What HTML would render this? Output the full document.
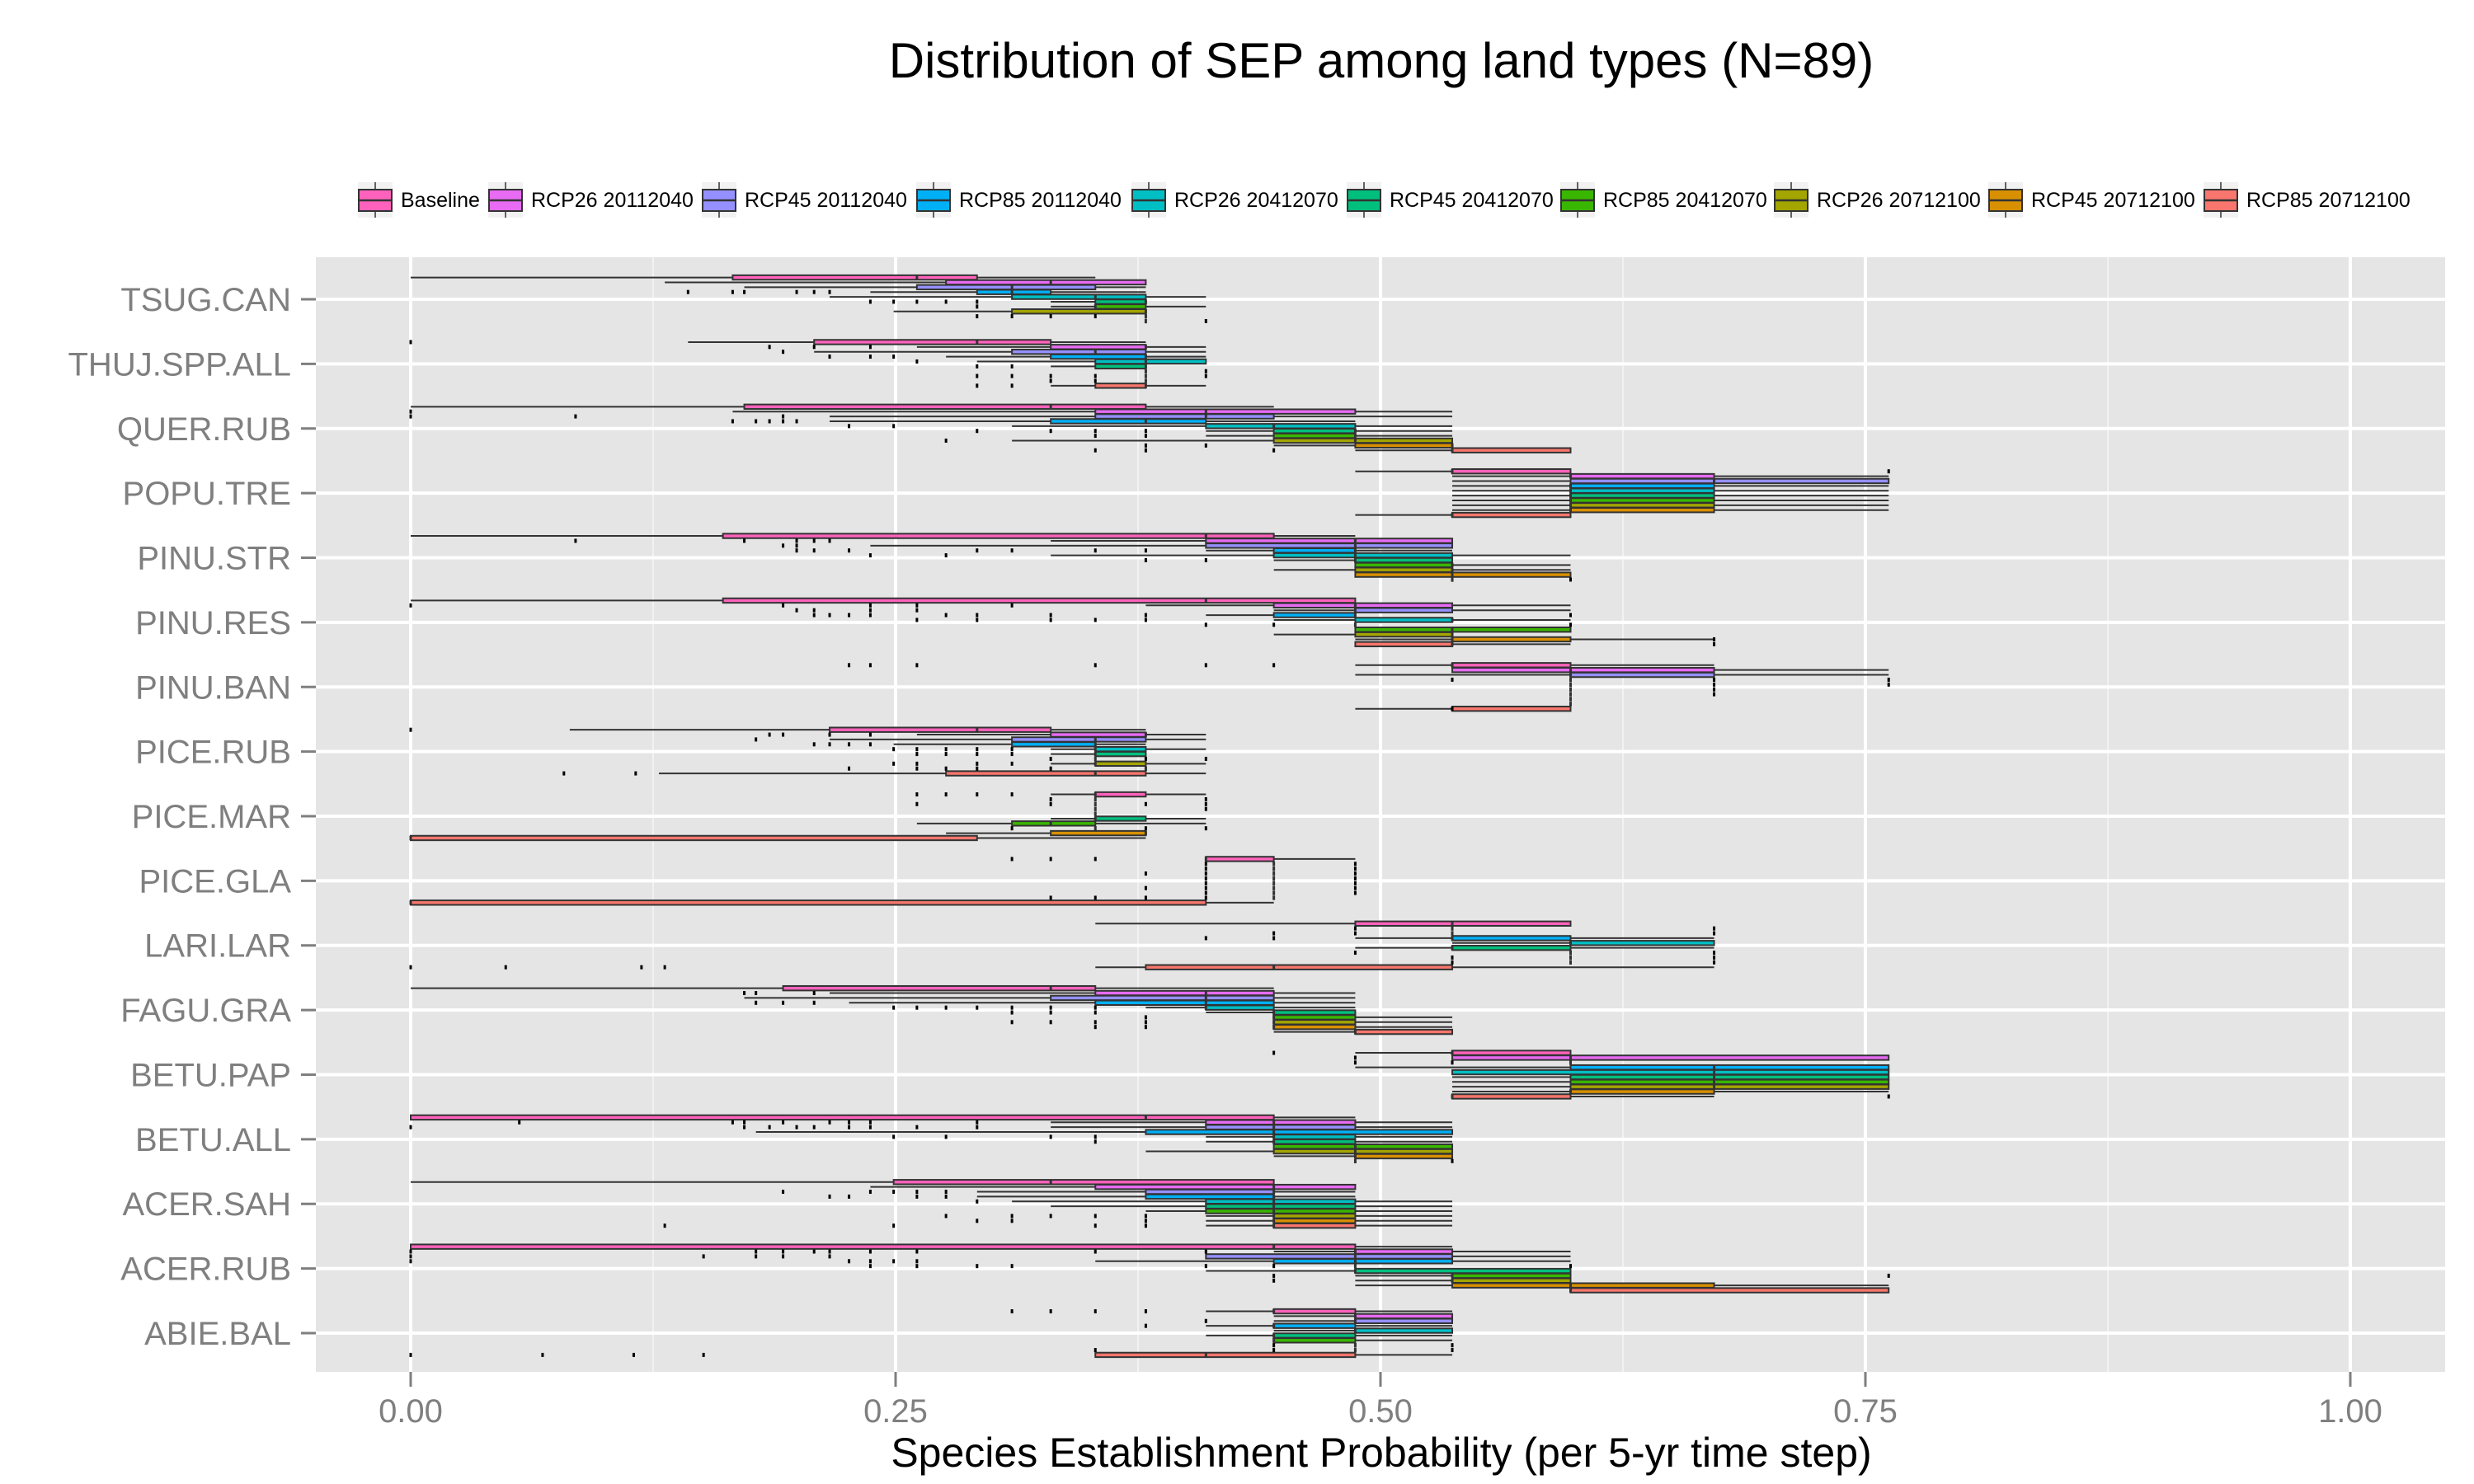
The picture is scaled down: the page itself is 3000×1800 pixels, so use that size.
<!DOCTYPE html>
<html><head><meta charset="utf-8"><style>
html,body{margin:0;padding:0;background:#fff;}
svg{display:block;font-family:"Liberation Sans",sans-serif;}
</style></head><body>
<svg id="chart" width="3000" height="1800" viewBox="0 0 3000 1800" xmlns="http://www.w3.org/2000/svg">
<rect x="0" y="0" width="3000" height="1800" fill="#fff"/>
<text x="1675" y="94" font-size="60" text-anchor="middle" fill="#000">Distribution of SEP among land types (N=89)</text>
<g id="legend"></g>
<rect x="383" y="312" width="2582" height="1352" fill="#E5E5E5"/>
<g id="grid"></g>
<g id="marks"></g>
<g id="axes"></g>
<text x="1675" y="1779" font-size="50" text-anchor="middle" fill="#000">Species Establishment Probability (per 5-yr time step)</text>
</svg>
<script>
const categories = ["TSUG.CAN","THUJ.SPP.ALL","QUER.RUB","POPU.TRE","PINU.STR","PINU.RES","PINU.BAN","PICE.RUB","PICE.MAR","PICE.GLA","LARI.LAR","FAGU.GRA","BETU.PAP","BETU.ALL","ACER.SAH","ACER.RUB","ABIE.BAL"];
const groups = ["Baseline","RCP26 20112040","RCP45 20112040","RCP85 20112040","RCP26 20412070","RCP45 20412070","RCP85 20412070","RCP26 20712100","RCP45 20712100","RCP85 20712100"];
const groupColors = ["#FF62BC","#E76BF3","#9590FF","#00B0F6","#00BFC4","#00BF7D","#39B600","#A3A500","#D89000","#F8766D"];
const xTicks = [0,0.25,0.5,0.75,1];
const xTickLabels = ["0.00","0.25","0.50","0.75","1.00"];
const xMinor = [0.125,0.375,0.625,0.875];
// per-category box stats [low whisker, q1, median, q3, high whisker], one row per group
const statsTSUG = [[0,.166,.261,.292,.353],[.131,.276,.33,.379,.379],[.172,.261,.31,.353,.379],[.237,.292,.31,.33,.379],[.216,.31,.353,.379,.41],[.33,.353,.379,.379,.379],[.33,.353,.353,.379,.41],[.249,.31,.379,.379,.379],[.379,.379,.379,.379,.379],[.379,.379,.379,.379,.379]];
const statsTHUJ = [[.143,.208,.292,.33,.379],[.261,.33,.379,.379,.41],[.208,.31,.353,.379,.41],[.276,.33,.379,.379,.41],[.292,.353,.379,.41,.41],[.33,.353,.379,.379,.379],[.379,.379,.379,.379,.379],[.379,.379,.379,.379,.379],[.379,.379,.379,.379,.379],[.33,.353,.379,.379,.41]];
const statsQUER = [[0,.172,.33,.379,.445],[.166,.353,.41,.487,.537],[.216,.353,.41,.445,.537],[.216,.33,.379,.41,.487],[.31,.41,.445,.487,.537],[.41,.445,.487,.487,.537],[.41,.445,.487,.487,.537],[.31,.445,.487,.537,.537],[.445,.487,.537,.537,.537],[.487,.537,.537,.598,.598]];
const statsPOPU = [[.487,.537,.537,.598,.598],[.537,.598,.598,.672,.762],[.537,.598,.672,.762,.762],[.537,.598,.598,.672,.762],[.537,.598,.598,.672,.762],[.537,.598,.598,.672,.762],[.537,.598,.598,.672,.762],[.537,.598,.598,.672,.762],[.537,.598,.598,.672,.762],[.487,.537,.537,.598,.598]];
const statsPSTR = [[0,.161,.41,.445,.487],[.33,.41,.487,.537,.537],[.237,.41,.487,.537,.537],[.41,.445,.487,.487,.537],[.33,.445,.487,.537,.598],[.445,.487,.487,.537,.537],[.487,.487,.537,.537,.598],[.445,.487,.537,.537,.598],[.487,.487,.537,.598,.598],[.537,.537,.537,.537,.537]];
const statsPRES = [[0,.161,.41,.487,.487],[.379,.445,.487,.537,.598],[.445,.487,.487,.537,.598],[.41,.445,.487,.487,.487],[.445,.487,.537,.537,.598],[.487,.487,.487,.487,.487],[.487,.487,.537,.598,.598],[.445,.487,.537,.537,.537],[.487,.537,.537,.598,.672],[.487,.487,.537,.537,.598]];
const statsPBAN = [[.487,.537,.537,.598,.672],[.537,.537,.598,.672,.762],[.487,.598,.598,.672,.762],[.598,.598,.598,.598,.598],[.598,.598,.598,.598,.598],[.598,.598,.598,.598,.598],[.598,.598,.598,.598,.598],[.598,.598,.598,.598,.598],[.598,.598,.598,.598,.598],[.487,.537,.537,.598,.598]];
const statsPRUB = [[.082,.216,.292,.33,.379],[.261,.33,.379,.379,.41],[.216,.31,.353,.379,.41],[.249,.31,.353,.353,.379],[.33,.353,.353,.379,.41],[.33,.353,.353,.379,.379],[.353,.353,.353,.353,.353],[.33,.353,.353,.379,.41],[.379,.379,.379,.379,.379],[.128,.276,.353,.379,.41]];
const statsPMAR = [[.33,.353,.353,.379,.41],[.353,.353,.353,.353,.353],[.353,.353,.353,.353,.353],[.353,.353,.353,.353,.353],[.353,.353,.353,.353,.353],[.33,.353,.353,.379,.41],[.261,.31,.33,.353,.41],[.353,.353,.353,.353,.353],[.276,.33,.379,.379,.379],[0,0,0,.292,.379]];
const statsPGLA = [[.41,.41,.41,.445,.487],[.445,.445,.445,.445,.445],[.445,.445,.445,.445,.445],[.445,.445,.445,.445,.445],[.445,.445,.445,.445,.445],[.445,.445,.445,.445,.445],[.445,.445,.445,.445,.445],[.445,.445,.445,.445,.445],[.445,.445,.445,.445,.445],[0,0,0,.41,.445]];
const statsLARI = [[.353,.487,.537,.598,.598],[.537,.537,.537,.537,.537],[.537,.537,.537,.537,.537],[.487,.537,.537,.598,.672],[.537,.598,.598,.672,.672],[.487,.537,.537,.598,.672],[.598,.598,.598,.598,.598],[.598,.598,.598,.598,.598],[.598,.598,.598,.598,.598],[.353,.379,.445,.537,.672]];
const statsFAGU = [[0,.192,.33,.353,.445],[.216,.353,.41,.445,.487],[.172,.33,.41,.445,.487],[.226,.353,.41,.445,.487],[.379,.41,.41,.445,.487],[.41,.445,.445,.487,.487],[.445,.445,.445,.487,.537],[.445,.445,.445,.487,.537],[.445,.445,.445,.487,.537],[.445,.487,.487,.537,.537]];
const statsBPAP = [[.487,.537,.537,.598,.598],[.537,.537,.598,.762,.762],[.598,.598,.598,.598,.598],[.487,.598,.672,.762,.762],[.537,.537,.672,.762,.762],[.537,.598,.672,.762,.762],[.537,.598,.672,.762,.762],[.537,.598,.672,.762,.762],[.537,.598,.598,.672,.762],[.537,.537,.537,.598,.672]];
const statsBALL = [[0,0,.379,.445,.487],[.33,.41,.445,.487,.537],[.33,.41,.445,.487,.537],[.178,.379,.445,.537,.537],[.41,.445,.445,.487,.537],[.41,.445,.445,.487,.537],[.445,.445,.487,.537,.537],[.379,.445,.487,.537,.537],[.445,.487,.487,.537,.537],[.487,.487,.487,.487,.487]];
const statsASAH = [[0,.249,.33,.445,.445],[.237,.353,.445,.487,.487],[.292,.379,.445,.445,.487],[.292,.379,.445,.445,.487],[.31,.41,.445,.487,.537],[.33,.41,.445,.487,.537],[.379,.41,.445,.487,.537],[.41,.445,.445,.487,.537],[.41,.445,.445,.487,.537],[.41,.445,.445,.487,.537]];
const statsARUB = [[0,0,.445,.487,.537],[.445,.487,.487,.537,.598],[.41,.41,.487,.537,.598],[.353,.445,.487,.537,.598],[.487,.487,.487,.487,.487],[.41,.487,.487,.598,.598],[.487,.537,.537,.598,.598],[.487,.537,.537,.598,.598],[.487,.537,.598,.672,.762],[.598,.598,.598,.762,.762]];
const statsABIE = [[.41,.445,.445,.487,.537],[.445,.487,.487,.537,.537],[.445,.487,.487,.537,.537],[.41,.445,.445,.487,.537],[.445,.487,.487,.537,.537],[.41,.445,.445,.487,.537],[.445,.445,.445,.487,.537],[.487,.487,.487,.487,.487],[.487,.487,.487,.487,.487],[.353,.353,.41,.487,.537]];
const allStats = [statsTSUG,statsTHUJ,statsQUER,statsPOPU,statsPSTR,statsPRES,statsPBAN,statsPRUB,statsPMAR,statsPGLA,statsLARI,statsFAGU,statsBPAP,statsBALL,statsASAH,statsARUB,statsABIE];
// outliers: [category index, group index, value]
const outliers = [
[0,3,.143],[0,3,.166],[0,3,.172],[0,3,.199],[0,3,.208],[0,3,.216],[0,5,.237],[0,5,.249],[0,5,.261],[0,5,.276],[0,5,.292],[0,6,.292],[0,8,.292],[0,8,.31],[0,8,.33],[0,8,.353],[0,9,.41],
[1,0,0],[1,1,.185],[1,1,.208],[1,1,.237],[1,2,.192],[1,3,.216],[1,3,.237],[1,3,.249],[1,4,.261],[1,5,.292],[1,5,.31],[1,6,.41],[1,7,.292],[1,7,.31],[1,7,.33],[1,7,.353],[1,7,.41],[1,8,.33],[1,8,.353],[1,9,.292],[1,9,.31],
[2,1,0],[2,2,0],[2,2,.085],[2,2,.192],[2,3,.166],[2,3,.178],[2,3,.185],[2,3,.192],[2,3,.199],[2,4,.226],[2,4,.249],[2,5,.292],[2,5,.33],[2,5,.353],[2,5,.379],[2,6,.353],[2,6,.379],[2,7,.276],[2,8,.379],[2,8,.41],[2,9,.353],[2,9,.379],[2,9,.445],
[3,0,.762],
[4,1,.085],[4,1,.172],[4,1,.199],[4,1,.208],[4,1,.216],[4,2,.192],[4,2,.199],[4,3,.199],[4,3,.208],[4,3,.226],[4,3,.292],[4,3,.31],[4,3,.353],[4,3,.379],[4,4,.237],[4,4,.276],[4,5,.379],[4,5,.41],[4,9,.598],
[5,1,0],[5,1,.192],[5,1,.237],[5,1,.261],[5,1,.31],[5,2,.199],[5,2,.208],[5,2,.237],[5,2,.261],[5,3,.208],[5,3,.216],[5,3,.226],[5,3,.237],[5,3,.276],[5,3,.292],[5,3,.33],[5,3,.379],[5,3,.598],[5,4,.261],[5,4,.292],[5,4,.33],[5,4,.353],[5,4,.379],[5,5,.41],[5,5,.445],[5,5,.598],[5,8,.672],[5,9,.672],
[6,0,.226],[6,0,.237],[6,0,.261],[6,0,.353],[6,0,.41],[6,0,.445],[6,3,.537],[6,3,.672],[6,3,.762],[6,4,.672],[6,4,.762],[6,5,.672],[6,6,.672],[6,9,.537],
[7,0,0],[7,1,.185],[7,1,.192],[7,1,.216],[7,1,.237],[7,2,.178],[7,3,.208],[7,3,.216],[7,3,.226],[7,3,.237],[7,4,.249],[7,4,.261],[7,4,.276],[7,4,.292],[7,4,.31],[7,5,.261],[7,5,.276],[7,5,.292],[7,5,.31],[7,6,.33],[7,6,.379],[7,6,.41],[7,7,.249],[7,7,.261],[7,7,.292],[7,7,.31],[7,8,.226],[7,8,.261],[7,8,.276],[7,8,.292],[7,8,.33],[7,9,.079],[7,9,.116],
[8,0,.261],[8,0,.276],[8,0,.292],[8,0,.31],[8,1,.33],[8,1,.41],[8,2,.261],[8,2,.33],[8,2,.379],[8,2,.41],[8,3,.41],[8,7,.31],[8,7,.379],[8,7,.41],
[9,0,.31],[9,0,.33],[9,0,.353],[9,1,.41],[9,1,.487],[9,2,.41],[9,2,.487],[9,3,.379],[9,3,.41],[9,3,.487],[9,4,.41],[9,4,.487],[9,5,.41],[9,5,.487],[9,6,.379],[9,6,.41],[9,6,.487],[9,7,.41],[9,7,.487],[9,8,.33],[9,8,.353],[9,8,.379],[9,8,.41],
[10,1,.487],[10,1,.672],[10,2,.445],[10,2,.487],[10,2,.672],[10,3,.41],[10,3,.445],[10,6,.487],[10,6,.672],[10,7,.537],[10,7,.672],[10,8,.537],[10,8,.672],[10,9,0],[10,9,.049],[10,9,.119],[10,9,.131],
[11,1,.172],[11,1,.178],[11,1,.208],[11,3,.178],[11,3,.192],[11,3,.208],[11,4,.249],[11,4,.261],[11,4,.276],[11,4,.292],[11,4,.31],[11,4,.33],[11,4,.353],[11,5,.31],[11,5,.33],[11,5,.353],[11,6,.379],[11,7,.31],[11,7,.33],[11,7,.353],[11,7,.379],[11,8,.353],[11,8,.379],
[12,0,.445],[12,1,.487],[12,2,.487],[12,2,.537],[12,9,.762],
[13,1,.056],[13,1,.166],[13,1,.172],[13,1,.192],[13,1,.216],[13,1,.226],[13,1,.237],[13,1,.292],[13,2,0],[13,2,.172],[13,2,.185],[13,2,.199],[13,2,.208],[13,2,.226],[13,2,.237],[13,2,.261],[13,2,.292],[13,4,.249],[13,4,.276],[13,4,.33],[13,4,.353],[13,5,.353],[13,9,.537],
[14,2,.192],[14,2,.237],[14,2,.249],[14,2,.261],[14,2,.276],[14,3,.216],[14,3,.226],[14,3,.261],[14,3,.276],[14,4,.292],[14,7,.276],[14,7,.31],[14,7,.33],[14,7,.353],[14,7,.379],[14,8,.292],[14,8,.31],[14,8,.379],[14,9,.131],[14,9,.249],[14,9,.353],[14,9,.379],
[15,1,0],[15,1,.178],[15,1,.192],[15,1,.208],[15,1,.216],[15,1,.237],[15,1,.261],[15,1,.353],[15,1,.41],[15,2,0],[15,2,.151],[15,2,.178],[15,2,.192],[15,2,.216],[15,3,0],[15,3,.226],[15,3,.237],[15,3,.249],[15,3,.261],[15,4,.237],[15,4,.261],[15,4,.292],[15,4,.31],[15,4,.41],[15,4,.445],[15,4,.598],[15,6,.445],[15,6,.762],[15,7,.445],
[16,0,.31],[16,0,.33],[16,0,.353],[16,0,.379],[16,2,.41],[16,3,.379],[16,7,.445],[16,7,.537],[16,8,.353],[16,8,.445],[16,8,.537],[16,9,0],[16,9,.068],[16,9,.115],[16,9,.151]
];

const NS = "http://www.w3.org/2000/svg";
const PX0 = 383, PX1 = 2965, PY0 = 312, PY1 = 1664;
const X0 = 498, X1 = 2850;
const xScale = v => X0 + v * (X1 - X0);
const CY0 = 316;
const catStep = (1664 - CY0) / (categories.length - 1 + 1.2);
const yCat = i => CY0 + catStep * (0.6 + i);
const rowH = catStep * 0.75 / groups.length;
const yRow = (i, g) => yCat(i) - catStep * 0.375 + rowH * (g + 0.5);

function mk(tag, attrs, parent) {
  const el = document.createElementNS(NS, tag);
  for (const k in attrs) el.setAttribute(k, attrs[k]);
  parent.appendChild(el);
  return el;
}

const grid = document.getElementById("grid");
xMinor.forEach(v => {
  const l = mk("line", {x1: xScale(v), x2: xScale(v), y1: PY0, y2: PY1, stroke: "#F2F2F2", "stroke-width": 2}, grid);
  
  
});
xTicks.forEach(v => {
  const l = mk("line", {x1: xScale(v), x2: xScale(v), y1: PY0, y2: PY1, stroke: "#fff", "stroke-width": 4}, grid);
  
  
});
categories.forEach((c, i) => {
  const l = mk("line", {x1: PX0, x2: PX1, y1: yCat(i), y2: yCat(i), stroke: "#fff", "stroke-width": 4}, grid);
  
  
});

const marks = document.getElementById("marks");
allStats.forEach((rows, ci) => {
  const cg = mk("g", {}, marks);
  
  
  rows.forEach((s, gi) => {
    const y = yRow(ci, gi);
    const h = rowH * 0.92;
    const g = mk("g", {}, cg);
    
    
    mk("line", {x1: xScale(s[0]), x2: xScale(s[1]), y1: y, y2: y, stroke: "#333", "stroke-width": 2}, g);
    mk("line", {x1: xScale(s[3]), x2: xScale(s[4]), y1: y, y2: y, stroke: "#333", "stroke-width": 2}, g);
    mk("rect", {x: xScale(s[1]), y: y - h / 2, width: Math.max(0, xScale(s[3]) - xScale(s[1])), height: h, fill: groupColors[gi], stroke: "#333", "stroke-width": 2}, g);
    mk("line", {x1: xScale(s[2]), x2: xScale(s[2]), y1: y - h / 2, y2: y + h / 2, stroke: "#333", "stroke-width": 3}, g);
  });
});
outliers.forEach(o => {
  const c = mk("rect", {x: xScale(o[2]) - 1.5, y: yRow(o[0], o[1]) - 2.5, width: 3, height: 5, fill: "#000"}, marks);
  
  
});

const axes = document.getElementById("axes");
categories.forEach((c, i) => {
  const t = mk("line", {x1: 365, x2: PX0, y1: yCat(i), y2: yCat(i), stroke: "#7F7F7F", "stroke-width": 3}, axes);
  
  
  const tx = mk("text", {x: 353, y: yCat(i) + 14, "font-size": 40, "text-anchor": "end", fill: "#7F7F7F"}, axes);
  tx.textContent = c;
  
  
});
xTicks.forEach((v, i) => {
  const t = mk("line", {x1: xScale(v), x2: xScale(v), y1: PY1, y2: PY1 + 18, stroke: "#7F7F7F", "stroke-width": 3}, axes);
  
  
  const tx = mk("text", {x: xScale(v), y: 1725, "font-size": 40, "text-anchor": "middle", fill: "#7F7F7F"}, axes);
  tx.textContent = xTickLabels[i];
  
  
});

const legend = document.getElementById("legend");
const legendKeyX = [434, 592, 851, 1111, 1372, 1633, 1892, 2151, 2411, 2672];
groups.forEach((gname, i) => {
  const g = mk("g", {}, legend);
  
  
  const x = legendKeyX[i];
  mk("rect", {x: x, y: 221, width: 42, height: 43, fill: "#F2F2F2"}, g);
  mk("line", {x1: x + 21, x2: x + 21, y1: 221, y2: 264, stroke: "#333", "stroke-width": 1.5}, g);
  mk("rect", {x: x + 1, y: 230, width: 40, height: 26, fill: groupColors[i], stroke: "#333", "stroke-width": 2}, g);
  mk("line", {x1: x + 1, x2: x + 41, y1: 243, y2: 243, stroke: "#333", "stroke-width": 2.5}, g);
  const t = mk("text", {x: x + 52, y: 251, "font-size": 25, fill: "#000"}, g);
  t.textContent = gname;
});
</script>
</body></html>
